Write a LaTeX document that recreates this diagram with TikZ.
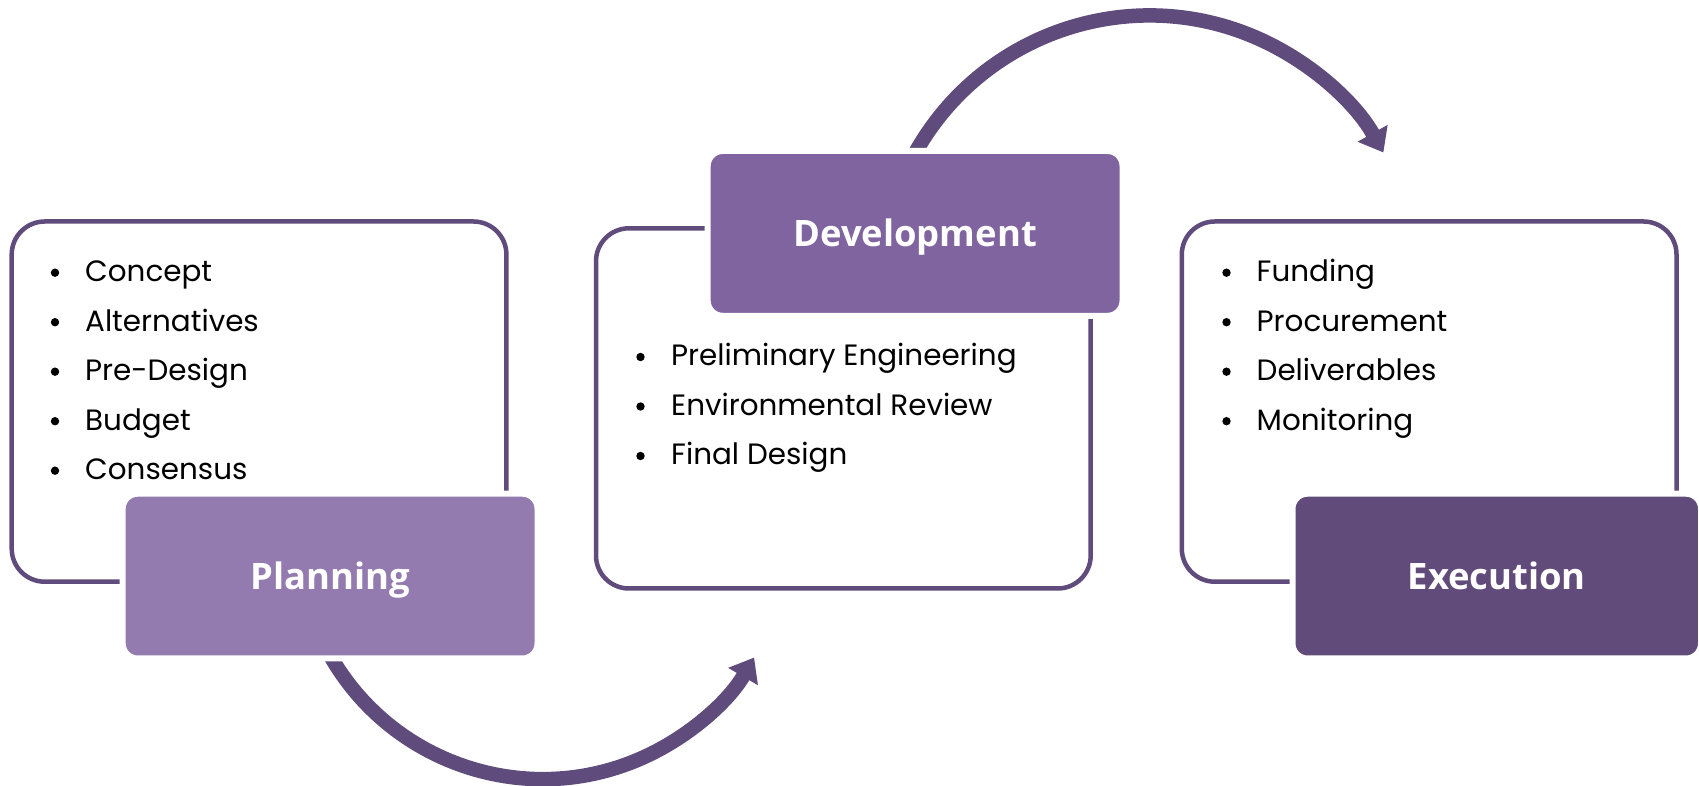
\documentclass[tikz,border=0pt]{standalone}
\usepackage{fontspec}
\usepackage{tikz}
\usetikzlibrary{arrows.meta}

\newfontfamily\itemfont{Poppins}
\newfontfamily\stagefont{Open Sans}

\definecolor{planfill}{HTML}{937AAF}
\definecolor{devfill}{HTML}{7F649F}
\definecolor{execfill}{HTML}{604B7B}
\definecolor{cycleline}{HTML}{604C7C}

\begin{document}
\begin{tikzpicture}
    [x=1pt, y=1pt,
     panel/.style={draw=cycleline, line width=4.5pt, rounded corners=33pt,
                   minimum width=494.7pt, minimum height=360.2pt, inner sep=0pt},
     stage/.style={draw=white, line width=6pt, rounded corners=15pt,
                   minimum width=414.8pt, minimum height=164.8pt, inner sep=0pt,
                   text=white, text height=26pt, text depth=0pt,
                   font=\stagefont\bfseries\fontsize{36.4pt}{40pt}\selectfont},
     item/.style={anchor=base west, inner sep=0pt,
                  font=\itemfont\fontsize{29.4pt}{36pt}\selectfont},
     dot/.style={circle, fill=black, minimum size=8.4pt, inner sep=0pt},
     cyclearrow/.style={draw=cycleline, line width=14.5pt,
                        -{Triangle[length=22pt, width=33pt]}}]

    \path[use as bounding box, fill=white] (0,0) rectangle (1699,786);

    % outlined panels
    \node[panel] (plan-panel) at (259.05,384.4) {};
    \node[panel] (dev-panel) at (843.35,377.6) {};
    \node[panel] (exec-panel) at (1429.15,384.4) {};

    % curved arrows, their tails hidden under the stage boxes
    \coordinate (plan-dev-centre) at (542.7,251.5);
    \draw[cyclearrow] (plan-dev-centre) ++(205:244.6)
        arc[start angle=205, end angle=329.8, radius=244.6];
    \coordinate (dev-exec-centre) at (1149.4,502.2);
    \draw[cyclearrow] (dev-exec-centre) ++(155:268.3)
        arc[start angle=155, end angle=29.3, radius=268.3];

    % stage boxes
    \node[stage, fill=planfill] (plan) at (330.1,209.9) {Planning};
    \node[stage, fill=devfill] (dev) at (915.1,552.6) {Development};
    \node[stage, fill=execfill, minimum width=408.5pt] (exec) at (1496.75,209.9) {Execution};

    % bullet lists
    \foreach \name [count=\i from 0] in {Concept, Alternatives, Pre-Design, Budget, Consensus} {
        \node[item] (plan-item-\i) at (85,504.3-49.5*\i) {\name};
        \node[dot] (plan-dot-\i) at (55,513.3-49.5*\i) {};
    }
    \foreach \name [count=\i from 0] in {Preliminary Engineering, Environmental Review, Final Design} {
        \node[item] (dev-item-\i) at (671,420-49.5*\i) {\name};
        \node[dot] (dev-dot-\i) at (640.5,429-49.5*\i) {};
    }
    \foreach \name [count=\i from 0] in {Funding, Procurement, Deliverables, Monitoring} {
        \node[item] (exec-item-\i) at (1256.5,504.3-49.5*\i) {\name};
        \node[dot] (exec-dot-\i) at (1226.5,513.3-49.5*\i) {};
    }
\end{tikzpicture}
\end{document}
